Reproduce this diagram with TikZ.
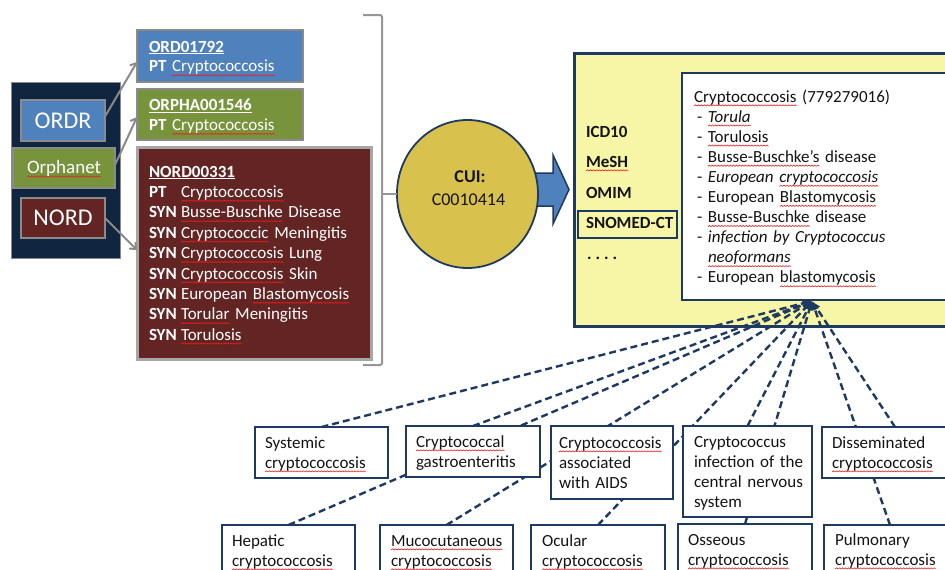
\documentclass[tikz,border=0pt]{standalone}
\usepackage{fontspec}
\setmainfont{Carlito}
\usetikzlibrary{shapes.geometric,arrows.meta}
\definecolor{navybg}{RGB}{16,37,63}
\definecolor{boxblue}{RGB}{79,129,189}
\definecolor{boxgreen}{RGB}{119,147,60}
\definecolor{boxred}{RGB}{99,37,35}
\definecolor{bordergray}{RGB}{138,138,138}
\definecolor{lightgray2}{RGB}{166,166,166}
\definecolor{bracketgray}{RGB}{150,150,150}
\definecolor{gold}{RGB}{216,193,76}
\definecolor{paleyellow}{RGB}{246,246,166}
\definecolor{navy}{RGB}{31,58,96}
\definecolor{wavered}{RGB}{235,30,30}
\definecolor{inkdark}{RGB}{20,20,20}
\newsavebox\wavebox
\newsavebox\wordbox
\newcommand\sq[1]{\leavevmode\sbox\wordbox{#1}\rlap{\raisebox{-4pt}[0pt][0pt]{\hbox to \wd\wordbox{\xleaders\copy\wavebox\hfil}}}\usebox\wordbox}
\newcommand\ul[1]{\leavevmode\sbox\wordbox{#1}\rlap{\raisebox{-2.2pt}[0pt][0pt]{\rule{\wd\wordbox}{1pt}}}\usebox\wordbox}
\pgfdeclarelayer{back}
\pgfdeclarelayer{links}
\pgfsetlayers{back,links,main}
\begin{document}
\sbox\wavebox{\pgfpicture
 \pgfpathrectangle{\pgfpointorigin}{\pgfpoint{3pt}{1.2pt}}\pgfusepath{use as bounding box}%
 \pgfsetlinewidth{0.6pt}\pgfsetstrokecolor{wavered}%
 \pgfpathmoveto{\pgfpointorigin}\pgfpathlineto{\pgfpoint{1.5pt}{1.2pt}}\pgfpathlineto{\pgfpoint{3pt}{0pt}}\pgfusepath{stroke}%
\endpgfpicture}%
\begin{tikzpicture}[x=1pt,y=-1pt,
  every node/.style={outer sep=0pt},
  srcbox/.style={draw=bordergray,line width=2.5pt,minimum width=84pt,minimum height=41pt,inner sep=0pt,text=white},
  idbox/.style={draw=bordergray,line width=2pt,anchor=north west,inner sep=0pt},
  txt/.style={anchor=base west,inner sep=0pt,text width=#1,align=left,font=\fontsize{17}{20}\selectfont},
  txt/.default=240pt,
  leafbox/.style={draw=navy,line width=1.3pt,fill=white,anchor=north west,inner sep=0pt},
  grayarrow/.style={draw=bordergray,line width=2pt,-{Straight Barb[length=5pt,width=9pt]}},
  dashline/.style={draw=navy,line width=2.4pt,dash pattern=on 7pt off 4pt,-{Latex[length=9pt,width=8pt]}},
  lbl/.style={anchor=base west,inner sep=0pt,font=\fontsize{17}{20}\selectfont\bfseries,text=inkdark}
]
\useasboundingbox (0,0) rectangle (945,570);
\begin{pgfonlayer}{back}
\fill[white] (0,0) rectangle (945,570);
% sources panel
\node[draw=bordergray,line width=1pt,fill=navybg,anchor=north west,minimum width=109pt,minimum height=176pt,inner sep=0pt] (srcpanel) at (11,82) {};
\node[srcbox,fill=boxblue,font=\fontsize{24}{28}\selectfont] (ordr) at (63,120.5) {ORDR};
\node[srcbox,fill=boxgreen,minimum width=102pt,minimum height=40pt,font=\fontsize{19}{22}\selectfont] (orph) at (64,168) {\sq{Orphanet}};
\node[srcbox,fill=boxred,minimum height=40pt,font=\fontsize{24}{28}\selectfont] (nord) at (63,218) {NORD};
% id boxes
\node[idbox,fill=boxblue,minimum width=166pt,minimum height=52pt] (ordbox) at (137,30) {};
\node[idbox,fill=boxgreen,minimum width=166pt,minimum height=51pt] (orphabox) at (137,89) {};
\node[idbox,draw=lightgray2,line width=3pt,fill=boxred,minimum width=234pt,minimum height=212pt] (nordbox) at (137,147) {};
\draw[grayarrow] ([yshift=4pt]ordr.east) -- ([yshift=-6pt]ordbox.west);
\draw[grayarrow] ([yshift=3pt]orph.east) -- ([yshift=-2.5pt]orphabox.west);
\draw[grayarrow] (nord.east) -- ([yshift=3pt]nordbox.west);
\node[txt,text=white] (ordtxt) at (149,52) {\textbf{\ul{ORD01792}}\\\textbf{PT} \sq{Cryptococcosis}};
\node[txt,text=white] (orphatxt) at (149,110.5) {\textbf{\ul{ORPHA001546}}\\\textbf{PT} \sq{Cryptococcosis}};
\node[txt,text=white,font=\fontsize{17}{20.4}\selectfont] (nordtxt) at (149,177) {\textbf{\ul{NORD00331}}\\
\makebox[32pt][l]{\textbf{PT}}\sq{Cryptococcosis}\\
\makebox[32pt][l]{\textbf{SYN}}\sq{Busse-Buschke} Disease\\
\makebox[32pt][l]{\textbf{SYN}}\sq{Cryptococcic} Meningitis\\
\makebox[32pt][l]{\textbf{SYN}}\sq{Cryptococcosis} Lung\\
\makebox[32pt][l]{\textbf{SYN}}\sq{Cryptococcosis} Skin\\
\makebox[32pt][l]{\textbf{SYN}}European \sq{Blastomycosis}\\
\makebox[32pt][l]{\textbf{SYN}}\sq{Torular} Meningitis\\
\makebox[32pt][l]{\textbf{SYN}}\sq{Torulosis}};
% bracket
\coordinate (bracemid) at (382,194);
\draw[bracketgray,line width=2pt,rounded corners=2pt] (363,15) -- (382,15) -- (382,365) -- (363,365);
% blue arrow
\draw[fill=boxblue,draw=navy,line width=1.5pt] (528,173) -- (553,173) -- (553,155) -- (569,189.5) -- (553,224) -- (553,206) -- (528,206) -- cycle;
% CUI
\node[ellipse,draw=navy,line width=1.8pt,fill=gold,minimum width=141pt,minimum height=148pt,inner sep=0pt] (cui) at (467.5,194) {};
\draw[bracketgray,line width=2pt] (bracemid) -- (cui.west);
\node[anchor=base,inner sep=0pt,font=\fontsize{18}{21}\selectfont\bfseries,text=inkdark] (cuilbl) at (470,182) {CUI:};
\node[anchor=base,inner sep=0pt,font=\fontsize{18}{21}\selectfont,text=inkdark] (cuiid) at (468.5,205) {C0010414};
% vocabularies
\node[draw=navy,line width=3pt,fill=paleyellow,anchor=north west,minimum width=400pt,minimum height=273pt,inner sep=0pt] (vocab) at (574,53) {};
\node[draw=navy,line width=2pt,fill=white,anchor=north west,minimum width=300pt,minimum height=227pt,inner sep=0pt] (synbox) at (682,73) {};
\node[lbl] (icd) at (586,137) {ICD10};
\node[lbl] (mesh) at (586,167) {\sq{MeSH}};
\node[lbl] (omim) at (586,198) {OMIM};
\node[draw=navy,line width=2pt,anchor=north west,minimum width=99pt,minimum height=27pt,inner sep=0pt] (snoframe) at (578,211) {};
\node[lbl] (snomed) at (586,228.5) {SNOMED-CT};
\node[lbl] (more) at (587,259) {.\hspace{4pt}.\hspace{4pt}.\hspace{4pt}.};
\node[txt=270pt,font=\fontsize{17}{20.1}\selectfont,text=inkdark] (syntxt) at (694,102) {\sq{Cryptococcosis} (779279016)\\
\hspace*{3pt}- \textit{\sq{Torula}}\\
\hspace*{3pt}- \sq{Torulosis}\\
\hspace*{3pt}- \sq{Busse-Buschke{\char"27}s} disease\\
\hspace*{3pt}- \textit{European \sq{cryptococcosis}}\\
\hspace*{3pt}- European \sq{Blastomycosis}\\
\hspace*{3pt}- \sq{Busse-Buschke} disease\\
\hspace*{3pt}- \textit{infection by Cryptococcus}\\
\hspace*{14pt}\textit{\sq{neoformans}}\\
\hspace*{3pt}- European \sq{blastomycosis}};
\coordinate (hub) at (812,301);
\end{pgfonlayer}
% concept boxes
\node[leafbox,minimum width=133pt,minimum height=51pt] (sys) at (255,427) {};
\node[leafbox,minimum width=134pt,minimum height=51pt] (gas) at (406,426) {};
\node[leafbox,minimum width=122pt,minimum height=73pt] (aids) at (551,426) {};
\node[leafbox,minimum width=129pt,minimum height=91pt] (cns) at (683,426) {};
\node[leafbox,minimum width=146pt,minimum height=51pt] (dis) at (822,427) {};
\node[leafbox,minimum width=133pt,minimum height=60pt] (hep) at (222,525) {};
\node[leafbox,minimum width=133pt,minimum height=60pt] (muc) at (380,525) {};
\node[leafbox,minimum width=134pt,minimum height=60pt] (ocu) at (531,525) {};
\node[leafbox,minimum width=134pt,minimum height=60pt] (oss) at (678,524) {};
\node[leafbox,minimum width=132pt,minimum height=60pt] (pul) at (824,525) {};
\node[txt,text=inkdark] (systxt) at (265,448) {Systemic\\\sq{cryptococcosis}};
\node[txt,text=inkdark] (gastxt) at (416,447) {\sq{Cryptococcal}\\gastroenteritis};
\node[txt,text=inkdark] (aidstxt) at (559,448) {\sq{Cryptococcosis}\\associated\\with AIDS};
\node[txt,text=inkdark] (cnstxt) at (694,447) {Cryptococcus\\infection of the\\central nervous\\system};
\node[txt,text=inkdark] (distxt) at (832,448) {Disseminated\\\sq{cryptococcosis}};
\node[txt,text=inkdark] (heptxt) at (232,546) {Hepatic\\\sq{cryptococcosis}};
\node[txt,text=inkdark] (muctxt) at (391,546) {\sq{Mucocutaneous}\\\sq{cryptococcosis}};
\node[txt,text=inkdark] (ocutxt) at (542,546) {Ocular\\\sq{cryptococcosis}};
\node[txt,text=inkdark] (osstxt) at (688,545) {Osseous\\\sq{cryptococcosis}};
\node[txt,text=inkdark] (pultxt) at (835,545) {Pulmonary\\\sq{cryptococcosis}};
% dashed links
\begin{pgfonlayer}{links}
\foreach \n in {sys,gas,hep,muc,ocu,cns,oss,dis,pul}
  \draw[dashline] (\n.north) -- (hub);
\end{pgfonlayer}
\end{tikzpicture}
\end{document}
